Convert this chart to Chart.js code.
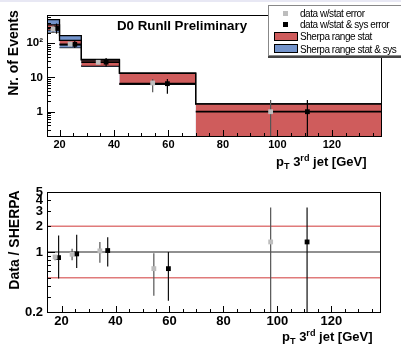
<!DOCTYPE html>
<html><head><meta charset="utf-8">
<script src="https://cdn.jsdelivr.net/npm/chart.js@4/dist/chart.umd.min.js"></script>
<style>
html,body{margin:0;padding:0;background:#fff;}
#wrap{position:relative;width:401px;height:351px;overflow:hidden;font-family:"Liberation Sans",Arial,sans-serif;background:#fff;}
#strip{position:absolute;left:0;top:0;width:401px;height:2px;background:#e8e8f4;}
canvas{position:absolute;left:0;}
.t{position:absolute;white-space:nowrap;font-weight:bold;color:#000;line-height:1;}
.rot{transform:translate(-50%,-50%) rotate(-90deg);}
.t sub{font-size:70%;vertical-align:-3px;line-height:0;}
.t sup{font-size:70%;vertical-align:5px;line-height:0;}
#legend{position:absolute;left:268px;top:5px;width:140px;height:49px;border:1px solid #888;background:#fff;box-shadow:0 2px 0 #444;}
.lr{position:absolute;left:31px;font-size:10px;letter-spacing:-0.45px;color:#000;white-space:nowrap;line-height:1;}
.mk{position:absolute;width:5px;height:5px;}
.bx{position:absolute;left:5px;width:22px;height:7px;border:1px solid #000;}
</style>
</head><body>
<div id="wrap">
  <div id="strip"></div>
  <canvas id="top" width="401" height="175" style="top:0"></canvas>
  <canvas id="bot" width="401" height="176" style="top:175px"></canvas>
  <div class="t" style="left:117px;top:19px;font-size:13.3px;">D0 RunII Preliminary</div>
  <div class="t rot" style="left:13px;top:53px;font-size:14px;">Nr. of Events</div>
  <div class="t rot" style="left:14px;top:240px;font-size:14px;">Data / SHERPA</div>
  <div class="t" style="left:276px;top:155px;font-size:13px;">p<sub>T</sub> 3<sup>rd</sup> jet [GeV]</div>
  <div class="t" style="left:282px;top:330px;font-size:13px;">p<sub>T</sub> 3<sup>rd</sup> jet [GeV]</div>
  <div id="legend">
    <div class="mk" style="left:14px;top:5px;background:#bdbdbd;"></div>
    <div class="lr" style="top:3px;">data w/stat error</div>
    <div class="mk" style="left:14px;top:16px;background:#000;"></div>
    <div class="lr" style="top:14px;">data w/stat &amp; sys error</div>
    <div class="bx" style="top:26px;background:#cf5c5c;"></div>
    <div class="lr" style="top:26px;">Sherpa range stat</div>
    <div class="bx" style="top:38px;background:#7394cc;"></div>
    <div class="lr" style="top:39px;">Sherpa range stat &amp; sys</div>
  </div>
</div>
<script>
// ---- data ----
const binEdges = [15, 20, 28, 42, 70, 140];
const sherpaSysHigh = [490, 167, 34, 13.5, 1.7];
const sherpaSysLow = [215, 75, 21, 6.3, 0.08];
const sherpaStatHigh = [345, 122, 32, 13.3, 1.68];
const sherpaStatLow = [245, 90, 22, 6.5, 0.1];

const xStatPts = [17.6, 23.9, 34.2, 54.2, 97.5];
const xSysPts = [18.9, 25.6, 37.1, 59.6, 111];
const dataStat = [262, 95, 27.8, 6.9, 1.0];
const dataStatLo = [200, 82, 25, 3.7, 0.05];
const dataStatHi = [350, 110, 31, 9.0, 2.2];
const dataSys = [275, 93, 28, 6.6, 1.0];
const dataSysLo = [190, 73, 21, 3.35, 0.05];
const dataSysHi = [380, 116, 37, 9.0, 2.2];

const ratioStat = [0.875, 0.94, 1.03, 0.64, 1.31];
const ratioStatLo = [0.80, 0.80, 0.75, 0.31, 0.05];
const ratioStatHi = [0.92, 1.09, 1.31, 0.97, 3.31];
const ratioSys = [0.86, 0.95, 1.04, 0.64, 1.31];
const ratioSysLo = [0.49, 0.65, 0.68, 0.27, 0.05];
const ratioSysHi = [1.56, 1.59, 1.49, 1.0, 3.31];
const ratioRefLines = [0.5, 1, 2];

const topYTicks = [0.2,0.3,0.4,0.5,0.6,0.7,0.8,0.9,1,2,3,4,5,6,7,8,9,10,20,30,40,50,60,70,80,90,100,200,300,400,500,600];
const topYLabels = {1:'1', 10:'10', 100:'10\u00B2'};
const botYTicks = [0.2,0.3,0.4,0.5,0.6,0.7,0.8,0.9,1,2,3,4,5];
const botYLabels = {0.2:'0.2', 1:'1', 2:'2', 3:'3', 4:'4', 5:'5'};
const xTicks = [20,25,30,35,40,45,50,55,60,65,70,75,80,85,90,95,100,105,110,115,120,125,130,135];
const xLabelStep = 20;

// ---- helpers ----
const RED = '#cf5c5c', BLUE = '#7394cc';
function stepPts(vals){ const p=[]; vals.forEach((v,i)=>{p.push({x:binEdges[i],y:v},{x:binEdges[i+1],y:v});}); return p; }
function hSegs(vals){ const p=[]; vals.forEach((v,i)=>{p.push({x:binEdges[i],y:v},{x:binEdges[i+1],y:v},{x:binEdges[i+1],y:null});}); return p; }
function vSegs(xs,lo,hi){ const p=[]; xs.forEach((x,i)=>{p.push({x:x,y:lo[i]},{x:x,y:hi[i]},{x:x,y:null});}); return p; }
function pts(xs,ys){ return xs.map((x,i)=>({x:x,y:ys[i]})); }
const vertHidden = {borderColor: c => c.p0.parsed.x === c.p1.parsed.x ? 'rgba(0,0,0,0)' : '#000'};

const frameTicks = {
  id:'frameTicks',
  afterDatasetsDraw(chart, args, o){
    const ctx = chart.ctx, a = chart.chartArea, xs = chart.scales.x, ys = chart.scales.y;
    ctx.save();
    ctx.strokeStyle = '#000'; ctx.lineWidth = 1;
    ctx.beginPath();
    xs.ticks.forEach(t=>{
      const px = Math.round(xs.getPixelForValue(t.value)) + 0.5;
      const len = (t.value % xLabelStep === 0) ? o.xMajor : o.xMinor;
      ctx.moveTo(px, a.bottom); ctx.lineTo(px, a.bottom - len);
    });
    ys.ticks.forEach(t=>{
      const py = Math.round(ys.getPixelForValue(t.value)) + 0.5;
      const len = t.mj ? o.yMajor : o.yMinor;
      ctx.moveTo(a.left, py); ctx.lineTo(a.left + len, py);
    });
    ctx.stroke();
    ctx.strokeRect(Math.round(a.left)+0.5, Math.round(a.top)+0.5, Math.round(a.right-a.left)-1, Math.round(a.bottom-a.top));
    ctx.restore();
  }
};

function xScale(min, fontSize, height){
  return {
    type:'linear', min:min, max:138.4,
    grid:{display:false, drawTicks:false}, border:{display:false},
    afterBuildTicks: s => { s.ticks = xTicks.map(v=>({value:v})); },
    afterFit: s => { s.height = height; },
    ticks:{autoSkip:false, maxRotation:0, padding:2, color:'#000',
      font:{family:'Liberation Sans', weight:'bold', size:fontSize},
      callback:(v)=> (v % xLabelStep === 0 ? String(v) : '')}
  };
}
function yScale(min, max, list, labels, majors, fontSize){
  return {
    type:'logarithmic', min:min, max:max,
    grid:{display:false, drawTicks:false}, border:{display:false},
    afterBuildTicks: s => { s.ticks = list.map(v=>({value:v, mj: majors.includes(v), lbl: labels[v] || ''})); },
    afterFit: s => { s.width = 47; },
    ticks:{autoSkip:false, padding:4, color:'#000',
      font:{family:'Liberation Sans', weight:'bold', size:fontSize},
      callback:(v,i,ticks)=> ticks[i].lbl}
  };
}
const common = {responsive:false, animation:false, devicePixelRatio:1,
  plugins:{legend:{display:false}, tooltip:{enabled:false}}};

// ---- top chart ----
new Chart(document.getElementById('top'), {
  type:'line',
  data:{datasets:[
    {data:stepPts(sherpaSysHigh), fill:'+1', backgroundColor:BLUE, borderColor:'#000', borderWidth:1.3, pointRadius:0, order:10},
    {data:stepPts(sherpaSysLow), fill:false, borderColor:'#000', borderWidth:1.3, pointRadius:0, order:10, segment:vertHidden},
    {data:stepPts(sherpaStatHigh), fill:'+1', backgroundColor:RED, borderColor:'#000', borderWidth:1.3, pointRadius:0, order:8},
    {data:stepPts(sherpaStatLow), fill:false, borderColor:'#000', borderWidth:1.3, pointRadius:0, order:8, segment:vertHidden},
    {data:hSegs(dataSys), fill:false, borderColor:'#000', borderWidth:1.8, pointRadius:0, spanGaps:false, order:6},
    {data:vSegs(xStatPts, dataStatLo, dataStatHi), fill:false, borderColor:'#555', borderWidth:1.2, pointRadius:0, spanGaps:false, order:4},
    {data:vSegs(xSysPts, dataSysLo, dataSysHi), fill:false, borderColor:'#000', borderWidth:1.2, pointRadius:0, spanGaps:false, order:4},
    {data:pts(xStatPts, dataStat), showLine:false, pointStyle:'rect', pointRadius:3.4, backgroundColor:'#bdbdbd', borderWidth:0, order:2},
    {data:pts(xSysPts, dataSys), showLine:false, pointStyle:'rect', pointRadius:3.4, backgroundColor:'#000', borderWidth:0, order:2}
  ]},
  options:Object.assign({}, common, {
    layout:{padding:{left:0, right:19, top:15, bottom:0}},
    scales:{
      x: xScale(15.4, 11, 39),
      y: yScale(0.195, 670, topYTicks, topYLabels, [1,10,100], 11.5)
    },
    plugins:Object.assign({}, common.plugins, {frameTicks:{xMajor:6, xMinor:3, yMajor:8, yMinor:4}})
  }),
  plugins:[frameTicks]
});

// ---- ratio chart ----
const refDatasets = ratioRefLines.map(v=>({
  data:[{x:14.6,y:v},{x:138.4,y:v}], fill:false, pointRadius:0,
  borderColor: v === 1 ? '#222' : '#e07a7a', borderWidth: v === 1 ? 1.2 : 1.5, order:9
}));
new Chart(document.getElementById('bot'), {
  type:'line',
  data:{datasets: refDatasets.concat([
    {data:vSegs(xStatPts, ratioStatLo, ratioStatHi), fill:false, borderColor:'#555', borderWidth:1.2, pointRadius:0, spanGaps:false, order:4},
    {data:vSegs(xSysPts, ratioSysLo, ratioSysHi), fill:false, borderColor:'#111', borderWidth:1.2, pointRadius:0, spanGaps:false, order:4},
    {data:pts(xStatPts, ratioStat), showLine:false, pointStyle:'rect', pointRadius:3.4, backgroundColor:'#bdbdbd', borderWidth:0, order:2},
    {data:pts(xSysPts, ratioSys), showLine:false, pointStyle:'rect', pointRadius:3.4, backgroundColor:'#000', borderWidth:0, order:2}
  ])},
  options:Object.assign({}, common, {
    layout:{padding:{left:0, right:20, top:17, bottom:0}},
    scales:{
      x: xScale(14.6, 13, 39),
      y: yScale(0.2, 5, botYTicks, botYLabels, [1], 13)
    },
    plugins:Object.assign({}, common.plugins, {frameTicks:{xMajor:6, xMinor:3, yMajor:8, yMinor:4}})
  }),
  plugins:[frameTicks]
});
</script>
</body></html>
